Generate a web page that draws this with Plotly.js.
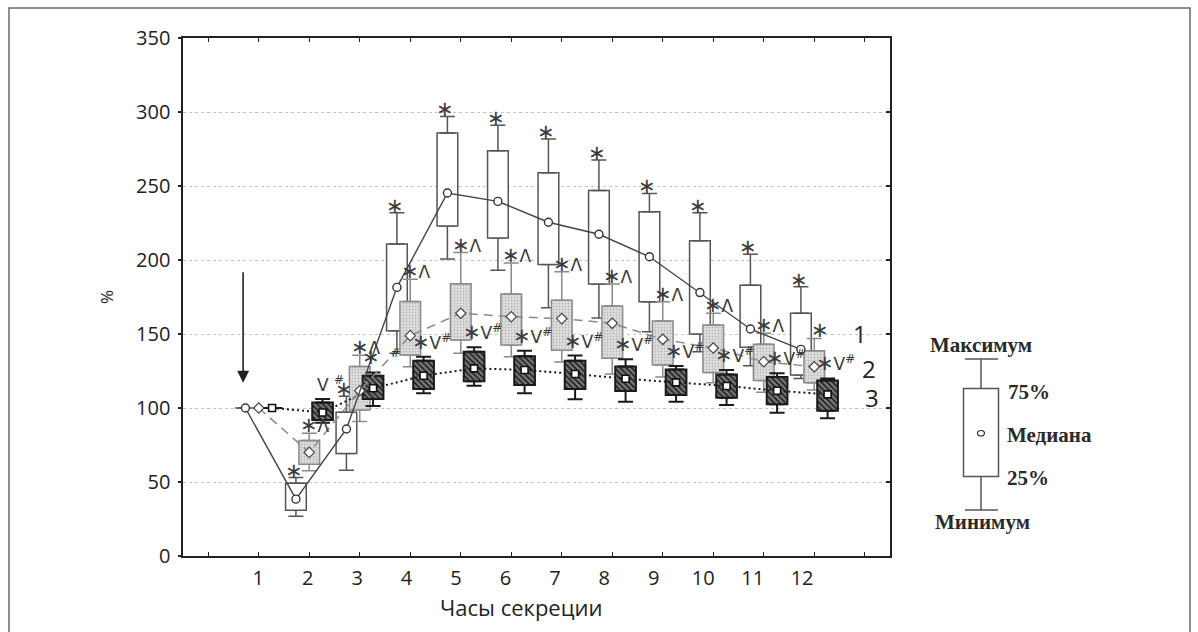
<!DOCTYPE html>
<html><head><meta charset="utf-8">
<script src="https://cdn.plot.ly/plotly-3.0.1.min.js"></script>
<style>html,body{margin:0;padding:0;background:#fff}#chart{width:1198px;height:632px}</style>
</head><body><div id="chart"></div>
<script>
// ---------- data ----------
const hours = [1,2,3,4,5,6,7,8,9,10,11,12];
const tickLabels = ['1','2','3','4','5','6','7','8','9','10','11','12'];
const seriesNames = ['1','2','3'];

// series 1 (white boxes, circles, solid line)
const min1 = [100, 26.8, 58.0, 137.0, 200.7, 193.0, 167.8, 160.8, 151.6, 138.0, 128.6, 120.0];
const q1_1 = [100, 30.9, 69.2, 152.2, 223.0, 214.9, 197.0, 183.8, 171.8, 150.0, 141.0, 122.3];
const med1 = [100, 38.4, 85.8, 181.5, 245.3, 239.6, 225.5, 217.4, 202.2, 178.0, 153.4, 139.6];
const q3_1 = [100, 49.1, 97.1, 210.8, 285.8, 273.9, 259.0, 247.0, 232.6, 213.0, 182.9, 164.0];
const max1 = [100, 53.0, 108.0, 232.0, 297.0, 291.0, 281.8, 267.6, 245.0, 232.0, 203.9, 182.0];

// series 2 (light dotted boxes, diamonds, dashed line)
const min2 = [100, 57.6, 90.8, 127.9, 137.0, 134.7, 131.0, 123.0, 121.0, 117.0, 110.6, 112.2];
const q1_2 = [100, 62.0, 98.6, 135.8, 146.0, 142.6, 139.0, 133.6, 129.0, 124.0, 118.5, 117.0];
const med2 = [100, 70.0, 111.7, 148.9, 164.0, 161.7, 160.4, 157.2, 146.4, 140.5, 131.3, 127.9];
const q3_2 = [100, 78.0, 128.0, 172.0, 184.0, 177.0, 172.8, 169.0, 158.8, 156.0, 143.0, 138.7];
const max2 = [100, 83.0, 135.6, 187.0, 205.0, 198.0, 192.1, 183.8, 171.8, 164.0, 150.5, 147.0];

// series 3 (dark hatched boxes, squares, dotted line)
const min3 = [100, 90.0, 101.4, 110.0, 115.0, 110.0, 105.9, 104.3, 104.3, 102.0, 96.8, 93.0];
const q1_3 = [100, 91.9, 106.0, 112.8, 118.0, 115.5, 112.8, 111.5, 108.8, 107.0, 102.5, 98.2];
const med3 = [100, 97.0, 113.3, 121.8, 126.8, 125.7, 123.0, 119.8, 117.3, 114.9, 111.7, 109.2];
const q3_3 = [100, 103.8, 121.8, 132.0, 138.0, 135.0, 132.0, 128.0, 126.0, 122.7, 121.0, 118.5];
const max3 = [100, 106.0, 124.0, 134.7, 141.0, 138.7, 135.4, 132.9, 128.4, 125.7, 123.4, 120.0];

// significance marks (S = asterisk)
const S = '<span style="font-size:21px">∗</span>';
const labels1 = ['', S, S, S, S, S, S, S, S, S, S, S];
const labels2 = ['', S + 'Λ', S + 'Λ', S + 'Λ', S + 'Λ', S + 'Λ', S + 'Λ', S + 'Λ', S + 'Λ', S + 'Λ', S + 'Λ', S];
const labels3 = ['', 'V <sup>#</sup>', S + '  <sup>#</sup>', S + 'V<sup>#</sup>', S + 'V<sup>#</sup>', S + 'V<sup>#</sup>',
                 S + 'V<sup>#</sup>', S + 'V<sup>#</sup>', S + 'V<sup>#</sup>', S + 'V<sup>#</sup>', S + 'V<sup>#</sup>', S + 'V<sup>#</sup>'];

// key texts
const keyTexts = {max: 'Максимум', q3: '75%', med: 'Медиана', q1: '25%', min: 'Минимум'};
const xTitle = 'Часы секреции';
const yTitle = '%';

// ---------- layout constants ----------
const W = 1198, H = 632;
const ML = 183, MR = 308, MT = 38, MB = 76;
const PW = W - ML - MR, PH = H - MT - MB;
const PX = x => (x - ML) / PW;
const PY = y => (MT + PH - y) / PH;
const OFF = 0.264, BOXW = 0.41;
const SANS = 'Open Sans, DejaVu Sans, sans-serif';
const labelPos = hours.map(h => 0.99 + 0.979 * (h - 1));

const sub = (a, b) => a.map((v, i) => v - b[i]);
const zeros = hours.map(() => 0);

function boxTraces(xs, mn, q1, q3, mx, st) {
  const lower = {
    type: 'bar', x: xs, base: mn, y: sub(q1, mn), width: BOXW,
    marker: {color: 'rgba(0,0,0,0)', line: {width: 0}},
    error_y: {type: 'data', symmetric: false, array: zeros, arrayminus: sub(q1, mn),
              width: 7.5, thickness: st.lw, color: st.line},
    hoverinfo: 'skip', showlegend: false
  };
  const body = {
    type: 'bar', x: xs, base: q1, y: sub(q3, q1), width: BOXW,
    marker: {color: st.fill, line: {color: st.line, width: st.lw}, pattern: st.pattern},
    error_y: {type: 'data', symmetric: false, array: sub(mx, q3), arrayminus: zeros,
              width: 7.5, thickness: st.lw, color: st.line},
    hoverinfo: 'skip', showlegend: false
  };
  return [lower, body];
}

const x1 = hours.map(h => h - OFF), x2 = hours.slice(), x3 = hours.map(h => h + OFF);

const traces = [
  ...boxTraces(x1, min1, q1_1, q3_1, max1, {fill: '#ffffff', line: '#555555', lw: 1.5}),
  ...boxTraces(x2, min2, q1_2, q3_2, max2, {fill: '#dedede', line: '#8a8a8a', lw: 1.5,
      pattern: {shape: '.', fgcolor: '#b8b8b8', bgcolor: '#e0e0e0', size: 3, solidity: 0.3}}),
  ...boxTraces(x3, min3, q1_3, q3_3, max3, {fill: '#5e5e5e', line: '#1a1a1a', lw: 2,
      pattern: {shape: '\\', fgcolor: '#1e1e1e', bgcolor: '#7a7a7a', size: 4, solidity: 0.42}}),
  {type: 'scatter', x: x3, y: med3, mode: 'lines+markers', name: seriesNames[2],
   line: {color: '#1a1a1a', width: 2, dash: '2px,3px'},
   marker: {symbol: 'square', size: 7, color: '#ffffff', line: {color: '#111111', width: 1.6}},
   hoverinfo: 'skip', showlegend: false},
  {type: 'scatter', x: x2, y: med2, mode: 'lines+markers', name: seriesNames[1],
   line: {color: '#8a8a8a', width: 1.5, dash: '9px,6px'},
   marker: {symbol: 'diamond', size: 8, color: '#ffffff', line: {color: '#444444', width: 1.2}},
   hoverinfo: 'skip', showlegend: false},
  {type: 'scatter', x: x1, y: med1, mode: 'lines+markers', name: seriesNames[0],
   line: {color: '#444444', width: 1.4},
   marker: {symbol: 'circle', size: 8, color: '#ffffff', line: {color: '#333333', width: 1.4}},
   hoverinfo: 'skip', showlegend: false},
  {type: 'scatter', x: [labelPos[0]], y: [0], xaxis: 'x2', yaxis: 'y2', mode: 'markers',
   marker: {opacity: 0}, hoverinfo: 'skip', showlegend: false}
];

// ---------- annotations ----------
const ann = [];
const markFont = {family: 'DejaVu Sans, sans-serif', size: 17, color: '#3a3a3a'};
hours.forEach((h, i) => {
  if (labels1[i]) ann.push({x: x1[i], y: max1[i], xref: 'x', yref: 'y', text: labels1[i], showarrow: false,
    xanchor: 'center', yanchor: 'middle', xshift: -2, yshift: 7, font: markFont});
  if (labels2[i]) ann.push({x: x2[i], y: max2[i], xref: 'x', yref: 'y', text: labels2[i], showarrow: false,
    xanchor: 'center', yanchor: 'middle', xshift: 6, yshift: 8, font: markFont});
  if (labels3[i]) ann.push({x: x3[i], y: max3[i], xref: 'x', yref: 'y', text: labels3[i], showarrow: false,
    xanchor: 'center', yanchor: 'middle', xshift: 8, yshift: 15, font: markFont});
});
// arrow marking the stimulus
ann.push({x: 0.69, y: 117, xref: 'x', yref: 'y', text: '', showarrow: true, ax: 0, ay: -112,
  arrowhead: 2, arrowsize: 1.5, arrowwidth: 1.6, arrowcolor: '#222222'});
// series numbers
const numFont = {family: SANS, size: 24, color: '#222222'};
[[860, 333], [869, 368], [872, 398]].forEach((p, i) => ann.push({
  x: PX(p[0]), y: PY(p[1]), xref: 'paper', yref: 'paper', xanchor: 'center', yanchor: 'middle',
  text: seriesNames[i], showarrow: false, font: numFont}));
// x title
ann.push({x: PX(521), y: PY(607), xref: 'paper', yref: 'paper', xanchor: 'center', yanchor: 'middle',
  text: xTitle, showarrow: false, font: {family: SANS, size: 22, color: '#222222'}});
// key
const keyFont = {family: 'Liberation Serif, Times New Roman, serif', size: 21, color: '#2a2a2a'};
const keyAnn = (x, y, t, xa) => ann.push({x: PX(x), y: PY(y), xref: 'paper', yref: 'paper',
  xanchor: xa, yanchor: 'middle', text: '<b>' + t + '</b>', showarrow: false, font: keyFont});
keyAnn(981, 345, keyTexts.max, 'center');
keyAnn(1006, 392, keyTexts.q3, 'left');
keyAnn(1005, 435, keyTexts.med, 'left');
keyAnn(1005, 478, keyTexts.q1, 'left');
keyAnn(982, 522, keyTexts.min, 'center');

const kc = '#555555';
const shapes = [
  {type: 'rect', xref: 'paper', yref: 'paper', x0: PX(9), x1: PX(1190), y0: PY(8), y1: PY(660), line: {color: '#6a6a6a', width: 1.5}},
  {type: 'rect', xref: 'paper', yref: 'paper', x0: PX(963.5), x1: PX(998.5), y0: PY(476.5), y1: PY(388.5), line: {color: kc, width: 1.5}},
  {type: 'line', xref: 'paper', yref: 'paper', x0: PX(981), x1: PX(981), y0: PY(359), y1: PY(388.5), line: {color: kc, width: 1.5}},
  {type: 'line', xref: 'paper', yref: 'paper', x0: PX(965), x1: PX(998), y0: PY(359), y1: PY(359), line: {color: kc, width: 1.5}},
  {type: 'line', xref: 'paper', yref: 'paper', x0: PX(981), x1: PX(981), y0: PY(476.5), y1: PY(510), line: {color: kc, width: 1.5}},
  {type: 'line', xref: 'paper', yref: 'paper', x0: PX(965), x1: PX(998), y0: PY(510), y1: PY(510), line: {color: kc, width: 1.5}},
  {type: 'circle', xref: 'paper', yref: 'paper', x0: PX(977.5), x1: PX(984.5), y0: PY(436), y1: PY(430.5), line: {color: '#333333', width: 1.2}, fillcolor: '#ffffff'}
];

const layout = {
  width: W, height: H,
  margin: {l: ML, r: MR, t: MT, b: MB},
  paper_bgcolor: '#ffffff', plot_bgcolor: '#ffffff',
  barmode: 'overlay',
  showlegend: false,
  font: {family: SANS, color: '#222222'},
  xaxis: {range: [-0.5, 13.5], tickvals: [0,1,2,3,4,5,6,7,8,9,10,11,12,13], ticks: 'inside', ticklen: 4,
    tickcolor: '#222222', tickwidth: 1.3, showticklabels: false, showline: true, linecolor: '#222222', linewidth: 1.6,
    mirror: 'allticks', showgrid: false, zeroline: false, fixedrange: true},
  xaxis2: {overlaying: 'x', anchor: 'y', side: 'bottom', range: [-0.5, 13.5], tickmode: 'array', tickvals: labelPos,
    ticktext: tickLabels, ticks: '', showline: false, showgrid: false, zeroline: false,
    tickfont: {family: SANS, size: 20, color: '#222222'}, ticklabelstandoff: 8},
  yaxis: {range: [0, 350], tickvals: [0,50,100,150,200,250,300,350], ticks: 'outside', ticklen: 3,
    tickcolor: '#222222', tickwidth: 1.3, showline: true, linecolor: '#222222', linewidth: 1.6,
    showgrid: true, gridcolor: '#c4c4c4', gridwidth: 1, griddash: 'dot', zeroline: false,
    tickfont: {family: SANS, size: 20, color: '#222222'}, ticklabelstandoff: 4,
    title: {text: yTitle, font: {family: SANS, size: 17, color: '#222222'}, standoff: 18}},
  yaxis2: {overlaying: 'y', anchor: 'x', side: 'right', range: [0, 350], tickvals: [0,50,100,150,200,250,300,350],
    ticks: 'inside', ticklen: 4, tickcolor: '#222222', tickwidth: 1.3, showticklabels: false,
    showline: true, linecolor: '#222222', linewidth: 1.6, showgrid: false, zeroline: false},
  annotations: ann,
  shapes: shapes
};

Plotly.newPlot('chart', traces, layout, {displayModeBar: false, staticPlot: true});
</script></body></html>
